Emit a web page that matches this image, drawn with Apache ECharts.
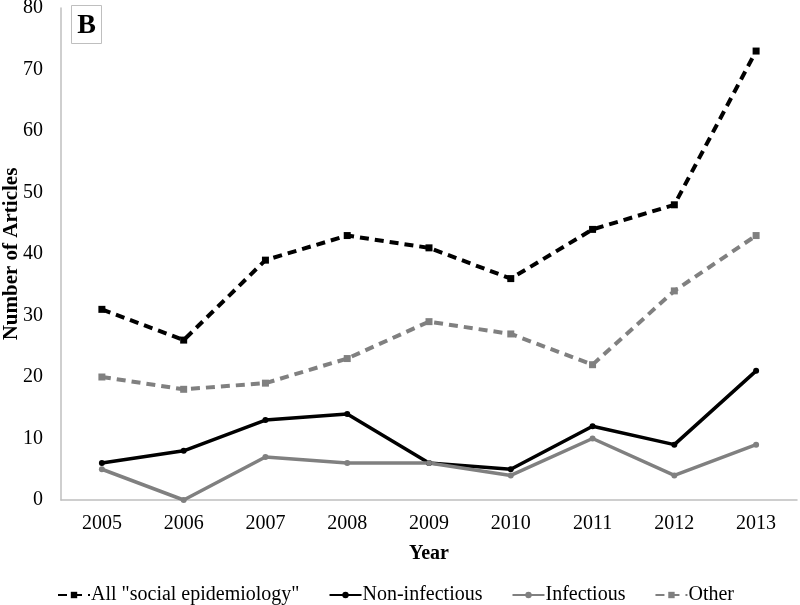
<!DOCTYPE html>
<html><head><meta charset="utf-8">
<script src="https://cdn.jsdelivr.net/npm/echarts@6/dist/echarts.min.js"></script>
<style>html,body{margin:0;padding:0;background:#fff}#c{width:800px;height:605px}</style>
</head><body><div id="c"></div>
<script>
const years = ['2005','2006','2007','2008','2009','2010','2011','2012','2013'];
const allSocial = [31, 26, 39, 43, 41, 36, 44, 48, 73];
const nonInfectious = [6, 8, 13, 14, 6, 5, 12, 9, 21];
const infectious = [5, 0, 7, 6, 6, 4, 10, 4, 9];
const other = [20, 18, 19, 23, 29, 27, 22, 34, 43];
const FONT = '"Liberation Serif", "Times New Roman", serif';
const chart = echarts.init(document.getElementById('c'));
chart.setOption({
  animation: false,
  textStyle: { fontFamily: FONT },
  grid: { left: 61, right: 3, top: 8, bottom: 105, containLabel: false, outerBoundsMode: 'none' },
  graphic: [{
    type: 'group', left: 71, top: 5,
    children: [
      { type: 'rect', shape: { x: 0, y: 0, width: 30, height: 38 }, style: { fill: '#fff', stroke: '#bfbfbf', lineWidth: 1 } },
      { type: 'text', style: { x: 15, y: 20, text: 'B', font: 'bold 28px ' + FONT, fill: '#000', textAlign: 'center', textVerticalAlign: 'middle' } }
    ]
  }],
  xAxis: {
    type: 'category', data: years, boundaryGap: true,
    name: 'Year', nameLocation: 'middle', nameGap: 44, nameMoveOverlap: false,
    nameTextStyle: { fontFamily: FONT, fontSize: 20, fontWeight: 'bold', color: '#000' },
    axisLine: { lineStyle: { color: '#bfbfbf', width: 1.5 } },
    axisTick: { show: false },
    axisLabel: { fontFamily: FONT, fontSize: 20, color: '#000', margin: 14 }
  },
  yAxis: {
    type: 'value', min: 0, max: 80, interval: 10,
    name: 'Number of Articles', nameLocation: 'middle', nameGap: 39, nameMoveOverlap: false,
    nameTextStyle: { fontFamily: FONT, fontSize: 21, fontWeight: 'bold', color: '#000' },
    axisLine: { show: true, lineStyle: { color: '#bfbfbf', width: 1.5 } },
    axisTick: { show: false },
    splitLine: { show: false },
    axisLabel: { fontFamily: FONT, fontSize: 20, color: '#000', margin: 18 }
  },
  legend: {
    left: 52, top: 580, itemGap: 29, itemWidth: 32, itemHeight: 8,
    textStyle: { fontFamily: FONT, fontSize: 20, color: '#000', padding: [0, 0, 0, -4] },
    data: ['All "social epidemiology"', 'Non-infectious', 'Infectious', 'Other']
  },
  series: [
    { name: 'All "social epidemiology"', type: 'line', data: allSocial, color: '#000',
      symbol: 'rect', symbolSize: 7, lineStyle: { width: 4, type: [9, 6], color: '#000' }, itemStyle: { color: '#000' } },
    { name: 'Non-infectious', type: 'line', data: nonInfectious, color: '#000',
      symbol: 'circle', symbolSize: 6, lineStyle: { width: 3.5, color: '#000' }, itemStyle: { color: '#000' } },
    { name: 'Infectious', type: 'line', data: infectious, color: '#808080',
      symbol: 'circle', symbolSize: 6, lineStyle: { width: 3.5, color: '#808080' }, itemStyle: { color: '#808080' } },
    { name: 'Other', type: 'line', data: other, color: '#808080',
      symbol: 'rect', symbolSize: 7, lineStyle: { width: 4, type: [9, 6], color: '#808080' }, itemStyle: { color: '#808080' } }
  ]
});
</script></body></html>
